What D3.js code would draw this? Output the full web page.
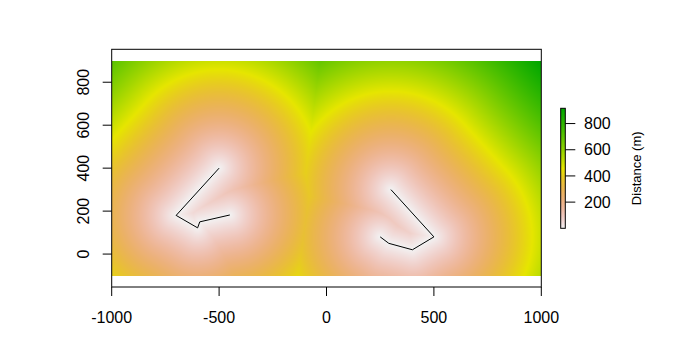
<!DOCTYPE html>
<html>
<head>
<meta charset="utf-8">
<script src="https://cdn.jsdelivr.net/npm/d3@7"></script>
<style>
  body { margin: 0; background: #fff; }
  svg text { font-family: "Liberation Sans", Arial, sans-serif; fill: #000; }
</style>
</head>
<body>
<div id="chart"></div>
<script>
const lineA = [[-500, 400], [-700, 180], [-600, 122], [-590, 150], [-450, 182]]
const lineB = [[300, 300], [500, 80], [400, 20], [290, 50], [250, 80]]
const rasterX = [-1000, 1000]
const rasterY = [-100, 900]
const xTicks = [-1000, -500, 0, 500, 1000]
const yTicks = [0, 200, 400, 600, 800]
const legendTicks = [200, 400, 600, 800]
const legendTitle = 'Distance (m)'

const width = 700
const height = 349
const box = { left: 111.7, right: 541.3, top: 49.3, bottom: 287 }

const x = d3.scaleLinear().domain(rasterX).range([box.left, box.right])
const unit = (box.right - box.left) / (rasterX[1] - rasterX[0])
const yMid = (rasterY[0] + rasterY[1]) / 2
const yHalf = (box.bottom - box.top) / unit / 2
const y = d3.scaleLinear().domain([yMid - yHalf, yMid + yHalf]).range([box.bottom, box.top])

// rev(terrain.colors()) as in R
function terrain (t) {
  const u = 1 - Math.max(0, Math.min(1, t))
  let h, s, v
  if (u < 0.5) {
    const w = u / 0.5
    h = 1 / 3 - w / 6; s = 1; v = 0.65 + w * 0.25
  } else {
    const w = (u - 0.5) / 0.5
    h = (1 / 6) * (1 - w); s = 1 - w; v = 0.9 + 0.05 * w
  }
  const i = Math.floor(h * 6)
  const f = h * 6 - i
  const p = v * (1 - s), q = v * (1 - f * s), r = v * (1 - (1 - f) * s)
  const m = [[v, r, p], [q, v, p], [p, v, r], [p, q, v], [r, p, v], [v, p, q]][i % 6]
  return m.map(c => Math.round(c * 255))
}

function segDist (px, py, a, b) {
  const dx = b[0] - a[0], dy = b[1] - a[1]
  let t = ((px - a[0]) * dx + (py - a[1]) * dy) / (dx * dx + dy * dy)
  t = Math.max(0, Math.min(1, t))
  const ex = a[0] + t * dx - px, ey = a[1] + t * dy - py
  return Math.sqrt(ex * ex + ey * ey)
}

function distance (px, py) {
  let best = Infinity
  for (const line of [lineA, lineB]) {
    for (let i = 0; i < line.length - 1; i++) {
      best = Math.min(best, segDist(px, py, line[i], line[i + 1]))
    }
  }
  return best
}

// raster
const x0 = Math.round(x(rasterX[0])), x1 = Math.round(x(rasterX[1]))
const y0 = Math.round(y(rasterY[1])), y1 = Math.round(y(rasterY[0]))
const cw = x1 - x0, ch = y1 - y0
const values = []
for (let j = 0; j < ch; j++) {
  for (let i = 0; i < cw; i++) {
    values.push(distance(x.invert(x0 + i + 0.5), y.invert(y0 + j + 0.5)))
  }
}
const maxD = d3.max(values)
const canvas = document.createElement('canvas')
canvas.width = cw
canvas.height = ch
const ctx = canvas.getContext('2d')
const img = ctx.createImageData(cw, ch)
values.forEach((d, k) => {
  const c = terrain(d / maxD)
  img.data[k * 4] = c[0]
  img.data[k * 4 + 1] = c[1]
  img.data[k * 4 + 2] = c[2]
  img.data[k * 4 + 3] = 255
})
ctx.putImageData(img, 0, 0)

const svg = d3.select('#chart').append('svg')
  .attr('width', width)
  .attr('height', height)

svg.append('image')
  .attr('x', x0).attr('y', y0)
  .attr('width', cw).attr('height', ch)
  .attr('preserveAspectRatio', 'none')
  .attr('href', canvas.toDataURL())

const line = d3.line().x(d => x(d[0])).y(d => y(d[1]))
svg.selectAll('path.feature')
  .data([lineA, lineB])
  .enter()
  .append('path')
  .attr('class', 'feature')
  .attr('d', line)
  .attr('fill', 'none')
  .attr('stroke', '#000')
  .attr('stroke-width', 1)

// box
svg.append('rect')
  .attr('x', box.left).attr('y', box.top)
  .attr('width', box.right - box.left).attr('height', box.bottom - box.top)
  .attr('fill', 'none').attr('stroke', '#000')

// axes
const tickLen = 9
const xAxis = svg.append('g')
xAxis.selectAll('line').data(xTicks).enter().append('line')
  .attr('x1', d => x(d)).attr('x2', d => x(d))
  .attr('y1', box.bottom).attr('y2', box.bottom + tickLen)
  .attr('stroke', '#000')
xAxis.selectAll('text').data(xTicks).enter().append('text')
  .attr('x', d => x(d)).attr('y', 323)
  .attr('text-anchor', 'middle')
  .style('font-size', '16px')
  .text(d => d)

const yAxis = svg.append('g')
yAxis.selectAll('line').data(yTicks).enter().append('line')
  .attr('x1', box.left - tickLen).attr('x2', box.left)
  .attr('y1', d => y(d)).attr('y2', d => y(d))
  .attr('stroke', '#000')
yAxis.selectAll('text').data(yTicks).enter().append('text')
  .attr('transform', d => `translate(89,${y(d)}) rotate(-90)`)
  .attr('text-anchor', 'middle')
  .style('font-size', '16px')
  .text(d => d)

// legend
const legend = { left: 560.7, right: 565.3, top: 108.3, bottom: 228.3 }
const ly = d3.scaleLinear().domain([0, maxD]).range([legend.bottom, legend.top])
const grad = svg.append('defs').append('linearGradient')
  .attr('id', 'legendGrad')
  .attr('x1', 0).attr('y1', 1).attr('x2', 0).attr('y2', 0)
grad.selectAll('stop').data(d3.range(0, 1.0001, 0.02)).enter().append('stop')
  .attr('offset', d => d)
  .attr('stop-color', d => `rgb(${terrain(d).join(',')})`)
svg.append('rect')
  .attr('x', legend.left).attr('y', legend.top)
  .attr('width', legend.right - legend.left).attr('height', legend.bottom - legend.top)
  .attr('fill', 'url(#legendGrad)')
  .attr('stroke', '#000')
const lg = svg.append('g')
lg.selectAll('line').data(legendTicks).enter().append('line')
  .attr('x1', legend.right).attr('x2', legend.right + 10)
  .attr('y1', d => ly(d)).attr('y2', d => ly(d))
  .attr('stroke', '#000')
lg.selectAll('text').data(legendTicks).enter().append('text')
  .attr('x', 584).attr('y', d => ly(d))
  .attr('dy', '0.35em')
  .style('font-size', '16px')
  .text(d => d)
svg.append('text')
  .attr('transform', `translate(641,${(legend.top + legend.bottom) / 2}) rotate(-90)`)
  .attr('text-anchor', 'middle')
  .style('font-size', '13px')
  .text(legendTitle)
</script>
</body>
</html>
